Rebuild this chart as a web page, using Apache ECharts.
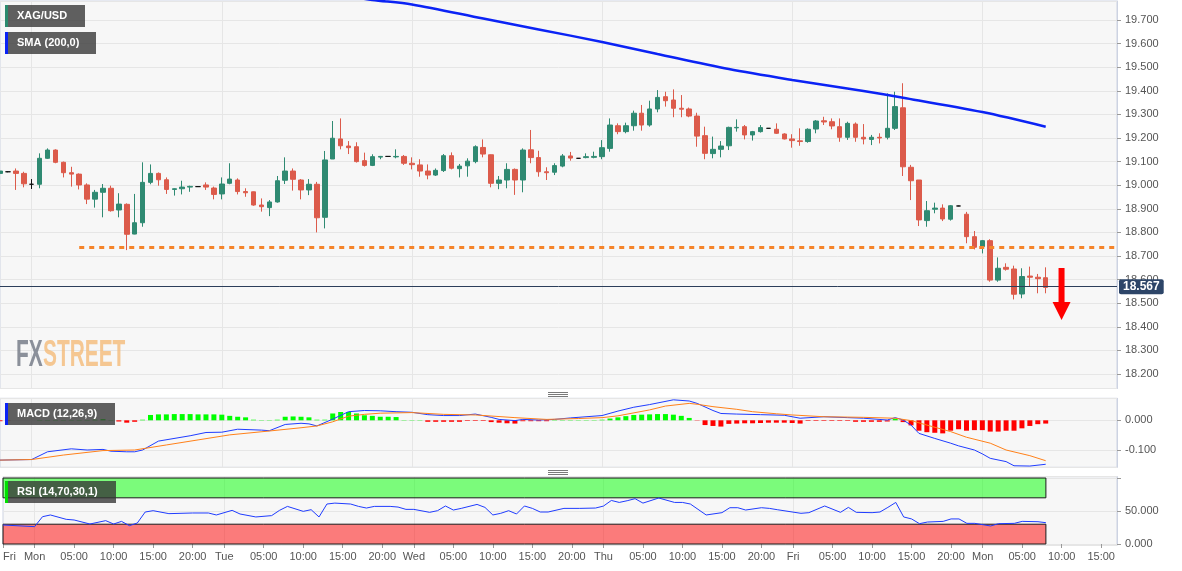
<!DOCTYPE html>
<html>
<head>
<meta charset="utf-8">
<script src="https://cdn.jsdelivr.net/npm/echarts@6/dist/echarts.min.js"></script>
<style>
  html, body { margin: 0; padding: 0; background: #fff; }
  #chart { width: 1182px; height: 571px; }
</style>
</head>
<body>
<div id="chart"></div>
<script>
// hourly categories, weekend squeezed out like the source chart
const dayNames = ['Mon 12', 'Tue 13', 'Wed 14', 'Thu 15', 'Fri 16', 'Mon 19'];
const categories = ['Fri 09 20:00', 'Fri 09 21:00', 'Fri 09 22:00', 'Fri 09 23:00'];
dayNames.forEach(d => {
  for (let h = 0; h < 24 && categories.length < 142; h++) {
    categories.push(d + ' ' + String(h).padStart(2, '0') + ':00');
  }
});
const labelHours = [0, 5, 10, 15, 20];

// XAG/USD hourly candles: [open, high, low, close]
const ohlc = [
  [19.050, 19.065, 19.045, 19.060], [19.057, 19.060, 19.055, 19.057], [19.060, 19.071, 18.980, 19.050],
  [19.050, 19.057, 18.991, 19.006], [19.004, 19.026, 18.984, 19.004], [19.004, 19.135, 18.987, 19.114],
  [19.114, 19.156, 19.111, 19.149], [19.149, 19.152, 19.093, 19.097], [19.097, 19.100, 19.033, 19.053],
  [19.053, 19.078, 18.994, 19.047], [19.047, 19.050, 18.982, 19.001], [19.001, 19.008, 18.920, 18.941],
  [18.941, 18.980, 18.905, 18.970], [18.970, 19.005, 18.864, 18.987], [18.987, 18.998, 18.888, 18.892],
  [18.895, 18.966, 18.864, 18.920], [18.919, 18.923, 18.725, 18.792], [18.793, 18.963, 18.792, 18.841],
  [18.841, 19.097, 18.824, 19.012], [19.012, 19.088, 19.004, 19.050], [19.050, 19.054, 18.998, 19.023],
  [19.023, 19.033, 18.963, 18.982], [18.982, 18.987, 18.956, 18.985], [18.985, 19.019, 18.961, 18.992],
  [18.992, 18.998, 18.972, 18.995], [18.994, 18.995, 18.993, 18.994], [19.001, 19.012, 18.980, 18.992],
  [18.988, 18.994, 18.940, 18.961], [18.963, 19.033, 18.940, 19.005], [19.008, 19.093, 19.004, 19.026],
  [19.022, 19.029, 18.961, 18.973], [18.973, 18.987, 18.951, 18.968], [18.972, 18.973, 18.913, 18.916],
  [18.916, 18.944, 18.888, 18.909], [18.905, 18.937, 18.869, 18.929], [18.929, 19.039, 18.926, 19.019],
  [19.021, 19.118, 19.005, 19.060], [19.060, 19.071, 18.977, 19.025], [19.022, 19.026, 18.940, 18.980],
  [18.980, 19.026, 18.958, 19.004], [19.004, 19.014, 18.800, 18.862], [18.864, 19.145, 18.817, 19.107],
  [19.111, 19.272, 19.111, 19.199], [19.196, 19.283, 19.152, 19.167], [19.166, 19.187, 19.132, 19.159],
  [19.163, 19.182, 19.096, 19.100], [19.104, 19.138, 19.079, 19.084], [19.084, 19.131, 19.081, 19.121],
  [19.119, 19.124, 19.110, 19.122], [19.122, 19.123, 19.121, 19.122], [19.120, 19.152, 19.114, 19.122],
  [19.122, 19.128, 19.086, 19.093], [19.093, 19.118, 19.067, 19.087], [19.086, 19.110, 19.036, 19.060],
  [19.060, 19.088, 19.025, 19.043], [19.043, 19.071, 19.039, 19.063], [19.062, 19.132, 19.056, 19.125],
  [19.125, 19.139, 19.067, 19.072], [19.070, 19.090, 19.033, 19.081], [19.082, 19.114, 19.036, 19.102],
  [19.100, 19.169, 19.093, 19.163], [19.160, 19.194, 19.118, 19.132], [19.129, 19.130, 18.991, 19.008],
  [19.008, 19.039, 18.983, 19.022], [19.022, 19.093, 18.987, 19.067], [19.067, 19.071, 18.959, 19.022],
  [19.022, 19.156, 18.970, 19.149], [19.150, 19.234, 19.093, 19.117], [19.117, 19.146, 19.036, 19.057],
  [19.057, 19.076, 19.022, 19.053], [19.055, 19.093, 19.043, 19.083], [19.081, 19.132, 19.076, 19.124],
  [19.124, 19.141, 19.104, 19.115], [19.114, 19.115, 19.113, 19.114], [19.117, 19.135, 19.114, 19.121],
  [19.118, 19.142, 19.114, 19.122], [19.121, 19.191, 19.110, 19.159], [19.156, 19.283, 19.142, 19.255],
  [19.252, 19.262, 19.216, 19.227], [19.227, 19.265, 19.220, 19.252], [19.252, 19.316, 19.231, 19.305],
  [19.305, 19.340, 19.231, 19.255], [19.255, 19.358, 19.248, 19.323], [19.323, 19.403, 19.309, 19.372],
  [19.375, 19.396, 19.333, 19.358], [19.361, 19.406, 19.288, 19.326], [19.326, 19.382, 19.288, 19.322],
  [19.323, 19.329, 19.288, 19.293], [19.293, 19.307, 19.163, 19.208], [19.210, 19.248, 19.110, 19.135],
  [19.134, 19.206, 19.114, 19.152], [19.152, 19.187, 19.118, 19.166], [19.167, 19.248, 19.149, 19.245],
  [19.243, 19.279, 19.227, 19.245], [19.248, 19.255, 19.194, 19.213], [19.213, 19.230, 19.189, 19.227],
  [19.227, 19.255, 19.223, 19.244], [19.241, 19.242, 19.240, 19.241], [19.237, 19.262, 19.217, 19.220],
  [19.217, 19.220, 19.194, 19.196], [19.196, 19.216, 19.159, 19.189], [19.188, 19.241, 19.167, 19.185],
  [19.185, 19.241, 19.180, 19.237], [19.238, 19.276, 19.220, 19.272], [19.273, 19.290, 19.255, 19.268],
  [19.269, 19.283, 19.237, 19.251], [19.248, 19.283, 19.184, 19.203], [19.203, 19.269, 19.192, 19.262],
  [19.259, 19.266, 19.184, 19.203], [19.203, 19.259, 19.173, 19.196], [19.194, 19.213, 19.170, 19.203],
  [19.203, 19.220, 19.177, 19.200], [19.203, 19.389, 19.194, 19.241], [19.241, 19.396, 19.234, 19.333],
  [19.328, 19.432, 19.039, 19.078], [19.076, 19.086, 18.937, 19.019], [19.022, 19.022, 18.827, 18.853],
  [18.850, 18.933, 18.824, 18.892], [18.898, 18.926, 18.881, 18.903], [18.903, 18.919, 18.848, 18.857],
  [18.856, 18.916, 18.850, 18.913], [18.912, 18.913, 18.911, 18.912], [18.877, 18.887, 18.754, 18.782],
  [18.782, 18.806, 18.728, 18.737], [18.740, 18.768, 18.711, 18.765], [18.765, 18.771, 18.591, 18.598],
  [18.598, 18.694, 18.591, 18.648], [18.652, 18.669, 18.638, 18.644], [18.645, 18.659, 18.516, 18.538],
  [18.539, 18.648, 18.521, 18.613], [18.615, 18.655, 18.570, 18.610], [18.610, 18.624, 18.542, 18.604],
  [18.608, 18.652, 18.542, 18.567]
];

// SMA(200) read at points along the line: [candle index, value]
const sma200 = [
  [44, 19.800], [47, 19.785], [52, 19.766], [61, 19.706], [68, 19.660], [76, 19.607], [83, 19.556],
  [92, 19.492], [100, 19.446], [109, 19.399], [114, 19.371], [124, 19.310], [132, 19.248]
];
const supportLevel = 18.738;
const supportFrom = 10;

// MACD (12,26,9)
const macdHist = [
  -0.003, -0.001, 0.000, 0.000, 0.000, 0.001, 0.001, 0.001, 0.001, 0.001,
  0.001, 0.001, 0.002, 0.004, 0.001, -0.004, -0.008, -0.005, 0.002, 0.018,
  0.020, 0.020, 0.021, 0.021, 0.021, 0.020, 0.020, 0.020, 0.019, 0.015,
  0.012, 0.010, 0.002, 0.001, 0.001, 0.002, 0.012, 0.013, 0.012, 0.010,
  0.002, 0.002, 0.023, 0.028, 0.028, 0.023, 0.017, 0.015, 0.012, 0.012,
  0.011, 0.001, 0.001, 0.001, -0.005, -0.005, -0.005, -0.005, -0.005, -0.002,
  -0.002, -0.002, -0.006, -0.008, -0.010, -0.011, -0.003, -0.003, -0.003, -0.003,
  0.001, 0.001, 0.001, 0.001, 0.001, 0.001, 0.002, 0.006, 0.010, 0.014,
  0.018, 0.019, 0.020, 0.021, 0.021, 0.019, 0.015, 0.008, -0.001, -0.016,
  -0.019, -0.021, -0.012, -0.011, -0.010, -0.010, -0.009, -0.008, -0.008, -0.008,
  -0.009, -0.011, -0.002, -0.002, -0.002, -0.002, -0.002, -0.002, -0.005, -0.005,
  -0.005, -0.005, -0.004, 0.005, -0.006, -0.017, -0.035, -0.040, -0.042, -0.044,
  -0.035, -0.030, -0.035, -0.033, -0.033, -0.038, -0.038, -0.035, -0.035, -0.027,
  -0.019, -0.013, -0.011
];
const macdLine = [
  [0, -0.134], [4, -0.132], [6, -0.106], [9, -0.096], [11, -0.100], [13, -0.098], [14, -0.104],
  [16, -0.106], [17, -0.106], [18, -0.100], [20, -0.070], [24, -0.052], [26, -0.041], [28, -0.040],
  [30, -0.030], [33, -0.033], [34, -0.035], [36, -0.014], [38, -0.010], [39, -0.012], [40, -0.019],
  [42, 0.004], [44, 0.029], [46, 0.033], [48, 0.032], [50, 0.029], [52, 0.027], [54, 0.019],
  [56, 0.016], [58, 0.016], [60, 0.021], [62, 0.010], [63, 0.003], [65, -0.001], [66, 0.003],
  [68, 0.001], [70, 0.003], [72, 0.008], [76, 0.016], [78, 0.031], [80, 0.044], [82, 0.053],
  [85, 0.069], [87, 0.065], [88, 0.057], [90, 0.033], [91, 0.023], [93, 0.021], [96, 0.019],
  [99, 0.017], [101, 0.007], [104, 0.012], [107, 0.009], [109, 0.007], [112, 0.001], [113, 0.009],
  [114, 0.001], [115, -0.016], [116, -0.044], [118, -0.061], [120, -0.077], [121, -0.086],
  [123, -0.100], [124, -0.113], [125, -0.128], [127, -0.139], [128, -0.153], [130, -0.154], [132, -0.148]
];
const signalLine = [
  [0, -0.134], [4, -0.132], [8, -0.117], [13, -0.102], [17, -0.100], [21, -0.083], [25, -0.066],
  [29, -0.049], [34, -0.036], [38, -0.025], [40, -0.019], [42, -0.005], [44, 0.014], [46, 0.020],
  [48, 0.024], [52, 0.026], [56, 0.020], [60, 0.018], [65, 0.009], [69, 0.003], [73, 0.006],
  [76, 0.009], [78, 0.015], [82, 0.035], [84, 0.048], [87, 0.057], [88, 0.054], [90, 0.046],
  [93, 0.037], [95, 0.029], [98, 0.022], [100, 0.018], [104, 0.012], [109, 0.010], [113, 0.007],
  [115, -0.001], [117, -0.016], [120, -0.038], [122, -0.057], [125, -0.077], [127, -0.100],
  [130, -0.119], [132, -0.136]
];

// RSI (14,70,30,1)
const rsiLine = [
  [0, 28.8], [4, 26.3], [5, 41.4], [6, 44.0], [8, 37.4], [9, 36.4], [11, 30.3], [13, 35.4],
  [14, 30.3], [15, 34.3], [16, 27.8], [17, 31.8], [18, 48.5], [19, 50.5], [21, 46.0], [24, 47.0],
  [26, 47.0], [27, 44.0], [29, 51.0], [30, 45.5], [32, 41.0], [34, 43.0], [35, 51.0], [36, 57.0],
  [38, 49.5], [39, 52.0], [40, 41.0], [41, 60.6], [42, 62.0], [44, 60.6], [45, 57.0], [46, 54.5],
  [47, 57.0], [49, 57.0], [50, 56.0], [51, 52.5], [52, 52.5], [54, 48.0], [55, 50.5], [56, 57.6],
  [57, 51.5], [58, 54.0], [60, 60.0], [61, 55.5], [62, 44.0], [63, 46.5], [64, 50.5], [65, 45.5],
  [66, 57.6], [67, 54.0], [68, 48.5], [69, 48.5], [71, 54.0], [73, 54.0], [75, 54.5], [76, 57.5],
  [77, 66.0], [78, 63.0], [79, 65.6], [80, 68.7], [81, 62.0], [83, 69.7], [85, 63.0], [86, 63.0],
  [87, 60.6], [89, 44.0], [91, 47.5], [92, 55.0], [93, 55.0], [94, 51.5], [96, 55.0], [97, 54.0],
  [98, 52.0], [101, 46.5], [102, 47.5], [104, 57.6], [106, 48.0], [107, 55.5], [108, 48.0],
  [110, 47.5], [111, 48.5], [112, 55.5], [113, 63.0], [114, 41.0], [115, 38.0], [116, 30.8],
  [117, 33.3], [119, 34.3], [120, 38.0], [121, 38.0], [122, 31.3], [123, 31.3], [125, 27.3],
  [126, 30.8], [128, 31.3], [129, 34.3], [131, 33.8], [132, 32.3]
];
const rsiHigh = 70;
const rsiLow = 30;
const rsiTicks = [0, 50];
const macdTicks = [0, -0.1];

const lastIdx = ohlc.length - 1;
const lastClose = ohlc[lastIdx][3];
const arrowIdx = 134;
const arrowValue = 18.539;

const FONT = 'Arial, "Liberation Sans", sans-serif';
const dayOf = v => v.split(' ')[0];
const hourOf = v => parseInt(v.split(' ')[2], 10);
const isDayStart = (i, v) => hourOf(v) === 0;
const isLabelTick = (i, v) => i === 0 || labelHours.indexOf(hourOf(v)) >= 0;
const stepFmt = step => v => {
  const r = Math.round(v / step) * step;
  return Math.abs(v - r) < 1e-6 ? v.toFixed(3) : '';
};
const listFmt = list => v => list.some(t => Math.abs(v - t) < 1e-6) ? v.toFixed(3) : '';

const gridStyle = { show: true, left: 0, right: 65, backgroundColor: '#f7f7f7', borderColor: '#cdd3e2', borderWidth: 1 };
const splitColor = '#e6e6e6';

function xAxisFor(gridIndex, withLabels) {
  return {
    type: 'category', gridIndex, data: categories, boundaryGap: false,
    axisLine: { show: false },
    axisTick: { show: withLabels, interval: isLabelTick, length: 4, lineStyle: { color: '#999' } },
    axisLabel: {
      show: withLabels, interval: isLabelTick, color: '#555', fontSize: 11, fontFamily: FONT, margin: 6,
      alignMinLabel: 'left',
      formatter: (v, i) => (i === 0 || hourOf(v) === 0) ? dayOf(v) : v.split(' ')[2]
    },
    splitLine: { show: true, interval: isDayStart, lineStyle: { color: splitColor } }
  };
}
function yAxisFor(gridIndex, min, max, splitNumber, fmt) {
  return {
    type: 'value', gridIndex, position: 'right', min, max, splitNumber,
    axisLine: { show: true, lineStyle: { color: '#cdd3e2' } },
    axisTick: { show: true, length: 4, lineStyle: { color: '#999' } },
    axisLabel: { color: '#555', fontSize: 11, fontFamily: FONT, margin: 8, formatter: fmt,
      showMinLabel: false, showMaxLabel: false },
    splitLine: { show: true, lineStyle: { color: splitColor } }
  };
}

function legendBox(x, y, w, label, stripe) {
  return [
    { type: 'rect', shape: { x, y, width: w, height: 22 }, style: { fill: 'rgba(52,52,52,0.78)' }, z: 100 },
    { type: 'rect', shape: { x, y, width: 3, height: 22 }, style: { fill: stripe }, z: 101 },
    { type: 'text', x: x + 12, y: y + 11, z: 101,
      style: { text: label, fill: '#fff', font: 'bold 11px ' + FONT, verticalAlign: 'middle', align: 'left' } }
  ];
}
function handle(yTop) {
  return [0, 2, 4].map(d => ({
    type: 'line', shape: { x1: 548, y1: yTop + d + 0.5, x2: 568, y2: yTop + d + 0.5 },
    style: { stroke: '#7a7a7a', lineWidth: 1 }, z: 100
  }));
}

const candleData = ohlc.map(r => [r[0], r[3], r[2], r[1]]);

const chart = echarts.init(document.getElementById('chart'));
chart.setOption({
  animation: false,
  backgroundColor: '#fff',
  grid: [
    Object.assign({ top: 1, height: 387.5 }, gridStyle),
    Object.assign({ top: 398.3, height: 69 }, gridStyle),
    Object.assign({ top: 476.7, height: 68.3 }, gridStyle)
  ],
  xAxis: [xAxisFor(0, false), xAxisFor(1, false), xAxisFor(2, true)],
  yAxis: [
    yAxisFor(0, 18.1386, 19.7805, 16, stepFmt(0.1)),
    yAxisFor(1, -0.1582, 0.0741, 2, listFmt(macdTicks)),
    yAxisFor(2, -1.5, 102, 2, listFmt(rsiTicks))
  ],
  graphic: [
    { type: 'text', x: 16, y: 356, scaleX: 0.58, z: 1,
      style: { text: 'FX', fill: 'rgba(120,126,138,0.85)', font: 'bold 36px ' + FONT, verticalAlign: 'middle' } },
    { type: 'text', x: 43, y: 356, scaleX: 0.58, z: 1,
      style: { text: 'STREET', fill: 'rgba(244,186,120,0.8)', font: 'bold 36px ' + FONT, verticalAlign: 'middle' } }
  ].concat(
    legendBox(5, 5, 80, 'XAG/USD', '#2b8a6e'),
    legendBox(5, 32, 91, 'SMA (200,0)', '#0a22f5'),
    legendBox(5, 403, 110, 'MACD (12,26,9)', '#0a22f5'),
    legendBox(5, 481, 111, 'RSI (14,70,30,1)', '#00e000'),
    handle(392),
    handle(470)
  ),
  series: [
    {
      type: 'candlestick', xAxisIndex: 0, yAxisIndex: 0, data: candleData, barWidth: 5, silent: true,
      itemStyle: {
        color: '#2f8a72', color0: '#dc5b4b', borderColor: '#2f8a72', borderColor0: '#dc5b4b',
        borderColorDoji: '#111', borderWidth: 1
      },
      markLine: {
        silent: true, symbol: ['none', 'none'], animation: false,
        data: [
          {
            yAxis: lastClose,
            lineStyle: { color: '#2c3e5a', width: 1, type: 'solid' },
            label: {
              show: true, position: 'end', distance: 2, formatter: lastClose.toFixed(3),
              backgroundColor: '#2d4568', color: '#fff', fontWeight: 'bold', fontSize: 12,
              fontFamily: FONT, padding: [2, 4, 1, 4], borderRadius: 2
            }
          },
          [
            { coord: [categories[supportFrom], supportLevel],
              lineStyle: { color: '#f5842a', width: 3, type: [5, 5] }, label: { show: false } },
            { coord: [categories[categories.length - 1], supportLevel] }
          ]
        ]
      },
      markPoint: {
        silent: true,
        data: [{
          coord: [categories[arrowIdx], arrowValue],
          symbol: 'path://M6,0 L12,0 L12,34 L18,34 L9,52 L0,34 L6,34 Z',
          symbolSize: [18, 52],
          itemStyle: { color: '#ff0000' },
          label: { show: false }
        }]
      }
    },
    {
      type: 'line', xAxisIndex: 0, yAxisIndex: 0, data: sma200, symbol: 'none', silent: true, z: 3,
      smooth: 0.3, lineStyle: { color: '#0b23f5', width: 2.5 }
    },
    {
      type: 'bar', xAxisIndex: 1, yAxisIndex: 1, barWidth: 5, silent: true,
      data: macdHist.map(v => ({ value: v, itemStyle: { color: v >= 0 ? '#00ff00' : '#ff0000' } }))
    },
    {
      type: 'line', xAxisIndex: 1, yAxisIndex: 1, data: macdLine, symbol: 'none', silent: true,
      lineStyle: { color: '#1f3cff', width: 1 }
    },
    {
      type: 'line', xAxisIndex: 1, yAxisIndex: 1, data: signalLine, symbol: 'none', silent: true,
      lineStyle: { color: '#ff8019', width: 1 }
    },
    {
      type: 'line', xAxisIndex: 2, yAxisIndex: 2, data: rsiLine, symbol: 'none', silent: true, z: 4,
      lineStyle: { color: '#1f3cff', width: 1 },
      markArea: {
        silent: true,
        data: [
          [{ xAxis: categories[0], yAxis: rsiHigh, itemStyle: { color: 'rgba(0,255,0,0.5)', borderColor: '#1a1a1a', borderWidth: 1 } },
           { xAxis: categories[lastIdx], yAxis: 100 }],
          [{ xAxis: categories[0], yAxis: 0, itemStyle: { color: 'rgba(255,0,0,0.5)', borderColor: '#1a1a1a', borderWidth: 1 } },
           { xAxis: categories[lastIdx], yAxis: rsiLow }]
        ]
      }
    }
  ]
});
</script>
</body>
</html>
